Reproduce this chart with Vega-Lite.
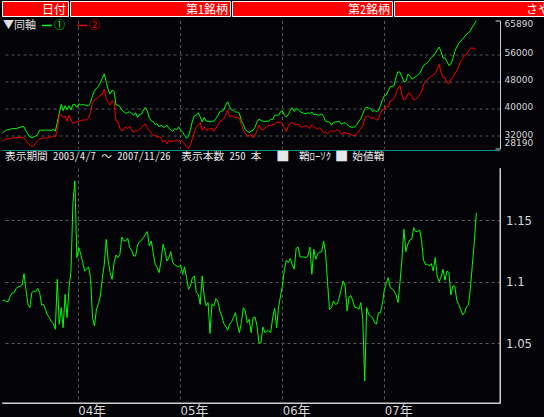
{
  "$schema": "https://vega.github.io/schema/vega-lite/v6.json",
  "background": "#030308",
  "padding": 0,
  "bounds": "flush",
  "spacing": 19.5,
  "datasets": {
    "weekly": [
      {"日付":"2003-04-07","①":32780,"②":30310,"さや":1.0844},
      {"日付":"2003-04-14","①":33180,"②":30710,"さや":1.0852},
      {"日付":"2003-04-21","①":33570,"②":31000,"さや":1.0836},
      {"日付":"2003-04-28","①":33770,"②":31100,"さや":1.0841},
      {"日付":"2003-05-05","①":33870,"②":31100,"さや":1.0885},
      {"日付":"2003-05-12","①":34070,"②":31300,"さや":1.0909},
      {"日付":"2003-05-19","①":34070,"②":31300,"さや":1.0912},
      {"日付":"2003-05-26","①":34070,"②":31300,"さや":1.0947},
      {"日付":"2003-06-02","①":34260,"②":31500,"さや":1.0958},
      {"日付":"2003-06-09","①":34360,"②":31500,"さや":1.0963},
      {"日付":"2003-06-16","①":34660,"②":31500,"さや":1.0974},
      {"日付":"2003-06-23","①":34560,"②":31200,"さや":1.1066},
      {"日付":"2003-06-30","①":33370,"②":30610,"さや":1.0939},
      {"日付":"2003-07-07","①":32490,"②":29820,"さや":1.0817},
      {"日付":"2003-07-14","①":31600,"②":29130,"さや":1.079},
      {"日付":"2003-07-21","①":31400,"②":28830,"さや":1.0912},
      {"日付":"2003-07-28","①":31600,"②":29030,"さや":1.0925},
      {"日付":"2003-08-04","①":31890,"②":29820,"さや":1.092},
      {"日付":"2003-08-11","①":32290,"②":30510,"さや":1.0947},
      {"日付":"2003-08-18","①":33570,"②":31100,"さや":1.0912},
      {"日付":"2003-08-25","①":33570,"②":31100,"さや":1.0812},
      {"日付":"2003-09-01","①":33570,"②":31300,"さや":1.0817},
      {"日付":"2003-09-08","①":33570,"②":31300,"さや":1.0776},
      {"日付":"2003-09-15","①":33570,"②":31300,"さや":1.073},
      {"日付":"2003-09-22","①":33570,"②":31500,"さや":1.0709},
      {"日付":"2003-09-29","①":33470,"②":31600,"さや":1.0676},
      {"日付":"2003-10-06","①":33870,"②":31890,"さや":1.066},
      {"日付":"2003-10-13","①":33280,"②":31690,"さや":1.0614},
      {"日付":"2003-10-20","①":35840,"②":33570,"さや":1.102},
      {"日付":"2003-10-27","①":38510,"②":38020,"さや":1.0655},
      {"日付":"2003-11-03","①":41180,"②":38220,"さや":1.079},
      {"日付":"2003-11-10","①":39300,"②":37330,"さや":1.0627},
      {"日付":"2003-11-17","①":40780,"②":37720,"さや":1.0898},
      {"日付":"2003-11-24","①":39700,"②":36240,"さや":1.0709},
      {"日付":"2003-12-01","①":40780,"②":38020,"さや":1.0953},
      {"日付":"2003-12-08","①":39500,"②":36540,"さや":1.1088},
      {"日付":"2003-12-15","①":41180,"②":35550,"さや":1.1644},
      {"日付":"2003-12-22","①":41180,"②":35840,"さや":1.182},
      {"日付":"2003-12-29","①":40290,"②":36140,"さや":1.1196},
      {"日付":"2004-01-05","①":41380,"②":36240,"さや":1.1278},
      {"日付":"2004-01-12","①":40980,"②":36440,"さや":1.1224},
      {"日付":"2004-01-19","①":41180,"②":36540,"さや":1.1156},
      {"日付":"2004-01-26","①":40980,"②":36640,"さや":1.1088},
      {"日付":"2004-02-02","①":40780,"②":36540,"さや":1.1102},
      {"日付":"2004-02-09","①":40780,"②":37230,"さや":1.1121},
      {"日付":"2004-02-16","①":41770,"②":38810,"さや":1.1034},
      {"日付":"2004-02-23","①":43750,"②":41770,"さや":1.0709},
      {"日付":"2004-03-01","①":45130,"②":42560,"さや":1.0641},
      {"日付":"2004-03-08","①":45920,"②":42960,"さや":1.0776},
      {"日付":"2004-03-15","①":46420,"②":43160,"さや":1.0823},
      {"日付":"2004-03-22","①":47600,"②":43950,"さや":1.0885},
      {"日付":"2004-03-29","①":48890,"②":44140,"さや":1.1028},
      {"日付":"2004-04-05","①":50170,"②":45630,"さや":1.1142},
      {"日付":"2004-04-12","①":47900,"②":42960,"さや":1.1345},
      {"日付":"2004-04-19","①":45430,"②":41770,"さや":1.1169},
      {"日付":"2004-04-26","①":44240,"②":40980,"さや":1.1075},
      {"日付":"2004-05-03","①":45330,"②":42170,"さや":1.102},
      {"日付":"2004-05-10","①":45030,"②":41970,"さや":1.1156},
      {"日付":"2004-05-17","①":40980,"②":36240,"さや":1.1218},
      {"日付":"2004-05-24","①":40980,"②":36040,"さや":1.1196},
      {"日付":"2004-05-31","①":40490,"②":34070,"さや":1.1224},
      {"日付":"2004-06-07","①":39500,"②":33280,"さや":1.1364},
      {"日付":"2004-06-14","①":39010,"②":34170,"さや":1.1332},
      {"日付":"2004-06-21","①":38510,"②":34460,"さや":1.1332},
      {"日付":"2004-06-28","①":38810,"②":34070,"さや":1.1354},
      {"日付":"2004-07-05","①":39010,"②":34760,"さや":1.1278},
      {"日付":"2004-07-12","①":38510,"②":33670,"さや":1.1256},
      {"日付":"2004-07-19","①":38020,"②":32880,"さや":1.121},
      {"日付":"2004-07-26","①":38710,"②":33370,"さや":1.121},
      {"日付":"2004-08-02","①":37330,"②":33370,"さや":1.1299},
      {"日付":"2004-08-09","①":38220,"②":33870,"さや":1.1327},
      {"日付":"2004-08-16","①":38320,"②":34360,"さや":1.1337},
      {"日付":"2004-08-23","①":39500,"②":35050,"さや":1.1359},
      {"日付":"2004-08-30","①":40290,"②":35450,"さや":1.1386},
      {"日付":"2004-09-06","①":39200,"②":34260,"さや":1.1408},
      {"日付":"2004-09-13","①":37230,"②":33570,"さや":1.1291},
      {"日付":"2004-09-20","①":36340,"②":32680,"さや":1.1332},
      {"日付":"2004-09-27","①":36140,"②":32090,"さや":1.1237},
      {"日付":"2004-10-04","①":35250,"②":31990,"さや":1.1142},
      {"日付":"2004-10-11","①":35450,"②":31500,"さや":1.1115},
      {"日付":"2004-10-18","①":34560,"②":31690,"さや":1.1075},
      {"日付":"2004-10-25","①":35050,"②":31300,"さや":1.1169},
      {"日付":"2004-11-01","①":34560,"②":30110,"さや":1.1305},
      {"日付":"2004-11-08","①":34460,"②":30610,"さや":1.1251},
      {"日付":"2004-11-15","①":35050,"②":29620,"さや":1.1169},
      {"日付":"2004-11-22","①":34070,"②":30610,"さや":1.1196},
      {"日付":"2004-11-29","①":33670,"②":30110,"さや":1.1245},
      {"日付":"2004-12-06","①":33280,"②":30410,"さや":1.1156},
      {"日付":"2004-12-13","①":34070,"②":30310,"さや":1.1137},
      {"日付":"2004-12-20","①":33670,"②":30810,"さや":1.1129},
      {"日付":"2004-12-27","①":34560,"②":30210,"さや":1.1121},
      {"日付":"2005-01-03","①":33570,"②":30710,"さや":1.1137},
      {"日付":"2005-01-10","①":32980,"②":30110,"さや":1.1061},
      {"日付":"2005-01-17","①":32090,"②":29520,"さや":1.1121},
      {"日付":"2005-01-24","①":31200,"②":28630,"さや":1.1034},
      {"日付":"2005-01-31","①":31790,"②":28240,"さや":1.0939},
      {"日付":"2005-02-07","①":33770,"②":29320,"さや":1.0966},
      {"日付":"2005-02-14","①":36240,"②":31100,"さや":1.1034},
      {"日付":"2005-02-21","①":37820,"②":33080,"さや":1.1047},
      {"日付":"2005-02-28","①":38020,"②":34460,"さや":1.0912},
      {"日付":"2005-03-07","①":38710,"②":35050,"さや":1.0898},
      {"日付":"2005-03-14","①":37520,"②":35840,"さや":1.0817},
      {"日付":"2005-03-21","①":36040,"②":33570,"さや":1.1047},
      {"日付":"2005-03-28","①":37330,"②":34560,"さや":1.0885},
      {"日付":"2005-04-04","①":36240,"②":33570,"さや":1.0804},
      {"日付":"2005-04-11","①":36240,"②":33770,"さや":1.0831},
      {"日付":"2005-04-18","①":36040,"②":34070,"さや":1.058},
      {"日付":"2005-04-25","①":36240,"②":34070,"さや":1.0822},
      {"日付":"2005-05-02","①":36240,"②":33280,"さや":1.0804},
      {"日付":"2005-05-09","①":37030,"②":34170,"さや":1.0863},
      {"日付":"2005-05-16","①":37820,"②":35050,"さや":1.0844},
      {"日付":"2005-05-23","①":39010,"②":36140,"さや":1.0763},
      {"日付":"2005-05-30","①":39200,"②":36440,"さや":1.0722},
      {"日付":"2005-06-06","①":39500,"②":36930,"さや":1.0663},
      {"日付":"2005-06-13","①":40980,"②":38020,"さや":1.0641},
      {"日付":"2005-06-20","①":41970,"②":39500,"さや":1.0606},
      {"日付":"2005-06-27","①":40490,"②":37520,"さや":1.0655},
      {"日付":"2005-07-04","①":39500,"②":37820,"さや":1.0676},
      {"日付":"2005-07-11","①":39500,"②":37520,"さや":1.0709},
      {"日付":"2005-07-18","①":38910,"②":37330,"さや":1.0749},
      {"日付":"2005-07-25","①":38910,"②":37430,"さや":1.0655},
      {"日付":"2005-08-01","①":38510,"②":37130,"さや":1.0587},
      {"日付":"2005-08-08","①":36440,"②":35250,"さや":1.0668},
      {"日付":"2005-08-15","①":35250,"②":33870,"さや":1.079},
      {"日付":"2005-08-22","①":33770,"②":32580,"さや":1.0763},
      {"日付":"2005-08-29","①":33280,"②":31890,"さや":1.0668},
      {"日付":"2005-09-05","①":32880,"②":31890,"さや":1.0695},
      {"日付":"2005-09-12","①":33280,"②":32290,"さや":1.0587},
      {"日付":"2005-09-19","①":33570,"②":31300,"さや":1.0709},
      {"日付":"2005-09-26","①":34460,"②":31990,"さや":1.0714},
      {"日付":"2005-10-03","①":36040,"②":33570,"さや":1.0641},
      {"日付":"2005-10-10","①":36830,"②":35050,"さや":1.0503},
      {"日付":"2005-10-17","①":36440,"②":33870,"さや":1.0505},
      {"日付":"2005-10-24","①":36240,"②":33670,"さや":1.0633},
      {"日付":"2005-10-31","①":36140,"②":34170,"さや":1.0587},
      {"日付":"2005-11-07","①":36240,"②":34560,"さや":1.06},
      {"日付":"2005-11-14","①":36240,"②":35050,"さや":1.06},
      {"日付":"2005-11-21","①":36830,"②":34950,"さや":1.0587},
      {"日付":"2005-11-28","①":36730,"②":35150,"さや":1.0709},
      {"日付":"2005-12-05","①":38020,"②":35350,"さや":1.0785},
      {"日付":"2005-12-12","①":38020,"②":36040,"さや":1.0627},
      {"日付":"2005-12-19","①":38020,"②":35840,"さや":1.0793},
      {"日付":"2005-12-26","①":39010,"②":36040,"さや":1.0885},
      {"日付":"2006-01-02","①":39300,"②":35350,"さや":1.0974},
      {"日付":"2006-01-09","①":38020,"②":34260,"さや":1.1102},
      {"日付":"2006-01-16","①":37430,"②":33180,"さや":1.1175},
      {"日付":"2006-01-23","①":38220,"②":34760,"さや":1.1156},
      {"日付":"2006-01-30","①":39400,"②":35650,"さや":1.1191},
      {"日付":"2006-02-06","①":40190,"②":35840,"さや":1.1137},
      {"日付":"2006-02-13","①":39100,"②":35350,"さや":1.1102},
      {"日付":"2006-02-20","①":39890,"②":35250,"さや":1.1272},
      {"日付":"2006-02-27","①":39700,"②":35250,"さや":1.1283},
      {"日付":"2006-03-06","①":39010,"②":34760,"さや":1.1202},
      {"日付":"2006-03-13","①":38810,"②":34460,"さや":1.1202},
      {"日付":"2006-03-20","①":38510,"②":34660,"さや":1.1202},
      {"日付":"2006-03-27","①":38410,"②":34860,"さや":1.1196},
      {"日付":"2006-04-03","①":38710,"②":34560,"さや":1.121},
      {"日付":"2006-04-10","①":38510,"②":34070,"さや":1.1283},
      {"日付":"2006-04-17","①":38910,"②":35250,"さや":1.1061},
      {"日付":"2006-04-24","①":38120,"②":34760,"さや":1.1264},
      {"日付":"2006-05-01","①":38320,"②":34170,"さや":1.1183},
      {"日付":"2006-05-08","①":38020,"②":33870,"さや":1.1229},
      {"日付":"2006-05-15","①":38020,"②":34260,"さや":1.124},
      {"日付":"2006-05-22","①":38410,"②":33770,"さや":1.1243},
      {"日付":"2006-05-29","①":37620,"②":32780,"さや":1.1332},
      {"日付":"2006-06-05","①":36240,"②":33080,"さや":1.1237},
      {"日付":"2006-06-12","①":36040,"②":32580,"さや":1.1001},
      {"日付":"2006-06-19","①":36040,"②":33080,"さや":1.0776},
      {"日付":"2006-06-26","①":35050,"②":33480,"さや":1.079},
      {"日付":"2006-07-03","①":35840,"②":33080,"さや":1.0844},
      {"日付":"2006-07-10","①":36040,"②":33480,"さや":1.0817},
      {"日付":"2006-07-17","①":36040,"②":33770,"さや":1.0822},
      {"日付":"2006-07-24","①":36240,"②":33370,"さや":1.0871},
      {"日付":"2006-07-31","①":35350,"②":32380,"さや":1.0939},
      {"日付":"2006-08-07","①":35650,"②":32780,"さや":1.1007},
      {"日付":"2006-08-14","①":35840,"②":32880,"さや":1.0966},
      {"日付":"2006-08-21","①":35250,"②":32580,"さや":1.0763},
      {"日付":"2006-08-28","①":34760,"②":32580,"さや":1.0877},
      {"日付":"2006-09-04","①":34460,"②":32290,"さや":1.0888},
      {"日付":"2006-09-11","①":34460,"②":31890,"さや":1.0839},
      {"日付":"2006-09-18","①":34560,"②":32090,"さや":1.079},
      {"日付":"2006-09-25","①":35250,"②":32580,"さや":1.079},
      {"日付":"2006-10-02","①":36240,"②":33280,"さや":1.0776},
      {"日付":"2006-10-09","①":36930,"②":34070,"さや":1.0831},
      {"日付":"2006-10-16","①":38320,"②":34860,"さや":1.0695},
      {"日付":"2006-10-23","①":39800,"②":37030,"さや":1.0194},
      {"日付":"2006-10-30","①":40390,"②":37720,"さや":1.079},
      {"日付":"2006-11-06","①":40090,"②":37620,"さや":1.0736},
      {"日付":"2006-11-13","①":39990,"②":37230,"さや":1.0722},
      {"日付":"2006-11-20","①":39100,"②":37130,"さや":1.0709},
      {"日付":"2006-11-27","①":39400,"②":37230,"さや":1.0668},
      {"日付":"2006-12-04","①":39100,"②":36540,"さや":1.0657},
      {"日付":"2006-12-11","①":39300,"②":36830,"さや":1.0749},
      {"日付":"2006-12-18","①":40780,"②":38510,"さや":1.0749},
      {"日付":"2006-12-25","①":42460,"②":39700,"さや":1.0817},
      {"日付":"2007-01-01","①":43650,"②":39500,"さや":1.0934},
      {"日付":"2007-01-08","①":43950,"②":40780,"さや":1.0985},
      {"日付":"2007-01-15","①":45130,"②":40490,"さや":1.1034},
      {"日付":"2007-01-22","①":46420,"②":42170,"さや":1.0953},
      {"日付":"2007-01-29","①":46420,"②":42270,"さや":1.0944},
      {"日付":"2007-02-05","①":46710,"②":42960,"さや":1.0925},
      {"日付":"2007-02-12","①":49180,"②":44340,"さや":1.0893},
      {"日付":"2007-02-19","①":50760,"②":45920,"さや":1.0831},
      {"日付":"2007-02-26","①":50660,"②":46710,"さや":1.0993},
      {"日付":"2007-03-05","①":49380,"②":43950,"さや":1.1183},
      {"日付":"2007-03-12","①":47900,"②":42460,"さや":1.1427},
      {"日付":"2007-03-19","①":47900,"②":42860,"さや":1.1245},
      {"日付":"2007-03-26","①":50070,"②":44240,"さや":1.1305},
      {"日付":"2007-04-02","①":49680,"②":44540,"さや":1.134},
      {"日付":"2007-04-09","①":48690,"②":43650,"さや":1.1346},
      {"日付":"2007-04-16","①":48890,"②":42560,"さや":1.144},
      {"日付":"2007-04-23","①":49280,"②":42660,"さや":1.1408},
      {"日付":"2007-04-30","①":49870,"②":43160,"さや":1.1408},
      {"日付":"2007-05-07","①":50270,"②":43950,"さや":1.1421},
      {"日付":"2007-05-14","①":51360,"②":44930,"さや":1.1346},
      {"日付":"2007-05-21","①":52640,"②":46910,"さや":1.1175},
      {"日付":"2007-05-28","①":53040,"②":47900,"さや":1.1142},
      {"日付":"2007-06-04","①":53430,"②":48390,"さや":1.1142},
      {"日付":"2007-06-11","①":54120,"②":49080,"さや":1.1129},
      {"日付":"2007-06-18","①":55010,"②":49480,"さや":1.1148},
      {"日付":"2007-06-25","①":55400,"②":49870,"さや":1.1088},
      {"日付":"2007-07-02","①":56200,"②":50270,"さや":1.1196},
      {"日付":"2007-07-09","①":57190,"②":51550,"さや":1.1047},
      {"日付":"2007-07-16","①":58070,"②":52940,"さや":1.1001},
      {"日付":"2007-07-23","①":56790,"②":50660,"さや":1.1039},
      {"日付":"2007-07-30","①":54810,"②":49180,"さや":1.1102},
      {"日付":"2007-08-06","①":54910,"②":49080,"さや":1.1012},
      {"日付":"2007-08-13","①":53830,"②":47600,"さや":1.1088},
      {"日付":"2007-08-20","①":52640,"②":47300,"さや":1.1075},
      {"日付":"2007-08-27","①":53040,"②":48590,"さや":1.0893},
      {"日付":"2007-09-03","①":54620,"②":49080,"さや":1.0966},
      {"日付":"2007-09-10","①":56790,"②":50270,"さや":1.0966},
      {"日付":"2007-09-17","①":58070,"②":51060,"さや":1.085},
      {"日付":"2007-09-24","①":59160,"②":52250,"さや":1.0817},
      {"日付":"2007-10-01","①":59850,"②":53830,"さや":1.0776},
      {"日付":"2007-10-08","①":60350,"②":54720,"さや":1.073},
      {"日付":"2007-10-15","①":61140,"②":55600,"さや":1.0749},
      {"日付":"2007-10-22","①":61930,"②":55900,"さや":1.0798},
      {"日付":"2007-10-29","①":62220,"②":56990,"さや":1.0812},
      {"日付":"2007-11-05","①":62920,"②":57780,"さや":1.0953},
      {"日付":"2007-11-12","①":64000,"②":57780,"さや":1.1142},
      {"日付":"2007-11-19","①":64890,"②":57680,"さや":1.1332},
      {"日付":"2007-11-26","①":65890,"②":57190,"さや":1.1562}
    ]
  },
  "vconcat": [
    {
      "spacing": 0,
      "hconcat": [
        {
          "width": 66, "height": 15,
          "view": {"fill": "#ff0000", "stroke": "#ffffff", "strokeWidth": 1},
          "data": {"values": [{"見出し": "日付"}]},
          "mark": {"type": "text", "align": "right", "baseline": "alphabetic", "dx": -2, "dy": -2, "color": "#ffffff", "font": "Noto Sans Mono CJK JP", "fontSize": 12},
          "encoding": {"text": {"field": "見出し"}, "x": {"value": "width"}, "y": {"value": "height"}}
        },
        {
          "width": 160, "height": 15,
          "view": {"fill": "#ff0000", "stroke": "#ffffff", "strokeWidth": 1},
          "data": {"values": [{"見出し": "第1銘柄"}]},
          "mark": {"type": "text", "align": "right", "baseline": "alphabetic", "dx": -2, "dy": -2, "color": "#ffffff", "font": "Noto Sans Mono CJK JP", "fontSize": 12},
          "encoding": {"text": {"field": "見出し"}, "x": {"value": "width"}, "y": {"value": "height"}}
        },
        {
          "width": 160, "height": 15,
          "view": {"fill": "#ff0000", "stroke": "#ffffff", "strokeWidth": 1},
          "data": {"values": [{"見出し": "第2銘柄"}]},
          "mark": {"type": "text", "align": "right", "baseline": "alphabetic", "dx": -2, "dy": -2, "color": "#ffffff", "font": "Noto Sans Mono CJK JP", "fontSize": 12},
          "encoding": {"text": {"field": "見出し"}, "x": {"value": "width"}, "y": {"value": "height"}}
        },
        {
          "width": 158, "height": 15,
          "view": {"fill": "#ff0000", "stroke": "#ffffff", "strokeWidth": 1},
          "data": {"values": [{"見出し": "さや"}]},
          "mark": {"type": "text", "align": "right", "baseline": "alphabetic", "dx": -2, "dy": -2, "color": "#ffffff", "font": "Noto Sans Mono CJK JP", "fontSize": 12},
          "encoding": {"text": {"field": "見出し"}, "x": {"value": "width"}, "y": {"value": "height"}}
        }
      ]
    },
    {
      "width": 498,
      "height": 128,
      "data": {"name": "weekly"},
      "transform": [{"fold": ["①", "②"], "as": ["銘柄", "価格"]}],
      "mark": {"type": "line", "strokeWidth": 1},
      "encoding": {
        "x": {
          "field": "日付", "type": "temporal",
          "scale": {"type": "utc", "domain": [{"year": 2003, "month": 4, "date": 5, "hours": 10, "utc": true}, {"year": 2008, "month": 2, "date": 18, "hours": 14, "utc": true}]},
          "axis": {
            "orient": "bottom",
            "values": [{"year": 2004, "month": 1, "date": 1, "utc": true}, {"year": 2005, "month": 1, "date": 1, "utc": true}, {"year": 2006, "month": 1, "date": 1, "utc": true}, {"year": 2007, "month": 1, "date": 1, "utc": true}],
            "labels": false, "ticks": false, "grid": true,
            "domain": true, "domainColor": "#118c8c", "domainWidth": 1, "offset": 1.5
          }
        },
        "y": {
          "field": "価格", "type": "quantitative",
          "scale": {"domain": [28190, 65890], "nice": false, "zero": false},
          "axis": {
            "orient": "right",
            "values": [28190, 32000, 40000, 48000, 56000, 65890],
            "format": "d",
            "domain": true, "domainColor": "#cfcfcf", "domainWidth": 1,
            "labelFlush": true,
            "labelOverlap": false,
            "labelOffset": -1.5,
            "labelFont": "DejaVu Sans", "labelFontSize": 9,
            "labelPadding": 9,
            "ticks": true, "tickSize": -5,
            "tickColor": {"condition": {"test": "datum.value === 28190 || datum.value === 65890", "value": "#cfcfcf"}, "value": "transparent"},
            "grid": true,
            "gridColor": {"condition": {"test": "datum.value === 28190 || datum.value === 65890", "value": "transparent"}, "value": "#5a5a5a"}
          }
        },
        "color": {
          "field": "銘柄", "type": "nominal",
          "scale": {"domain": ["①", "②"], "range": ["#00ff00", "#ff0000"]},
          "legend": {
            "orient": "none", "legendX": 1, "legendY": 18.5,
            "direction": "horizontal",
            "title": "▼同軸", "titleOrient": "left", "titleColor": "#e0e0e0",
            "titleFont": "Noto Sans Mono CJK JP", "titleFontSize": 11, "titleFontWeight": "normal", "titlePadding": 5,
            "symbolType": "stroke", "symbolSize": 100, "symbolStrokeWidth": 1.5,
            "labelFont": "Noto Sans CJK JP", "labelFontSize": 11, "labelOffset": 1, "columnPadding": 9,
            "padding": 0,
            "encode": {"labels": {"update": {"fill": {"signal": "datum.value === '①' ? '#00ff00' : '#ff0000'"}}}}
          }
        }
      }
    },
    {
      "width": 498,
      "height": 235,
      "title": {
        "text": "表示期間 2003/4/7 ～ 2007/11/26 \u00a0表示本数 250 本\u3000\u00a0█\u00a0\u00a0鞘ﾛｰｿｸ\u00a0█\u00a0始値鞘",
        "anchor": "start", "frame": "group", "orient": "top",
        "baseline": "alphabetic", "offset": -3, "dx": 3,
        "font": "Noto Sans Mono CJK JP", "fontSize": 10.7, "fontWeight": "normal", "color": "#e8e8e8"
      },
      "layer": [
        {
          "data": {"name": "weekly"},
          "mark": {"type": "line", "color": "#00ff00", "strokeWidth": 1},
          "encoding": {
            "x": {
              "field": "日付", "type": "temporal",
              "scale": {"type": "utc", "domain": [{"year": 2003, "month": 4, "date": 5, "hours": 10, "utc": true}, {"year": 2008, "month": 2, "date": 18, "hours": 14, "utc": true}]},
              "axis": {
                "orient": "bottom",
                "values": [{"year": 2004, "month": 1, "date": 1, "utc": true}, {"year": 2005, "month": 1, "date": 1, "utc": true}, {"year": 2006, "month": 1, "date": 1, "utc": true}, {"year": 2007, "month": 1, "date": 1, "utc": true}],
                "labelExpr": "utcFormat(datum.value, '%y') + '年'",
                "domain": true, "domainColor": "#cfcfcf", "domainWidth": 1,
                "labelAlign": "left", "labelBaseline": "top", "labelPadding": 1,
                "labelFont": "Liberation Sans Narrow, DejaVu Sans Condensed, Noto Sans CJK JP", "labelFontSize": 13,
                "grid": true
              }
            },
            "y": {
              "field": "さや", "type": "quantitative",
              "scale": {"domain": [1.0015, 1.1925], "nice": false, "zero": false},
              "axis": {
                "orient": "right",
                "values": [1.05, 1.1, 1.15],
                "format": "~g",
                "domain": true, "domainColor": "#cfcfcf", "domainWidth": 1,
                "labelFont": "Liberation Sans Narrow, DejaVu Sans Condensed, Liberation Sans", "labelFontSize": 13,
                "labelPadding": 5.5,
                "grid": true
              }
            }
          }
        },
        {
          "data": {"values": [{}]},
          "mark": {"type": "rule", "color": "#cfcfcf", "strokeWidth": 1},
          "encoding": {
            "x": {"datum": {"year": 2008, "month": 2, "date": 18, "hours": 14, "utc": true}, "type": "temporal"},
            "y": {"datum": 1.0015, "type": "quantitative"},
            "y2": {"datum": 1.1925}
          }
        },
        {
          "data": {"values": [{}]},
          "mark": {"type": "rule", "color": "#cfcfcf", "strokeWidth": 1},
          "encoding": {
            "x": {"datum": {"year": 2003, "month": 4, "date": 5, "hours": 10, "utc": true}, "type": "temporal"},
            "x2": {"datum": {"year": 2008, "month": 2, "date": 18, "hours": 14, "utc": true}},
            "y": {"datum": 1.0015, "type": "quantitative"}
          }
        }
      ]
    }
  ],
  "config": {
    "view": {"stroke": null},
    "axis": {
      "title": null,
      "ticks": false,
      "labelOverlap": false,
      "domainColor": "#cfcfcf",
      "labelColor": "#d8d8d8",
      "gridColor": "#5a5a5a",
      "gridDash": [3, 3],
      "gridWidth": 1
    }
  }
}
